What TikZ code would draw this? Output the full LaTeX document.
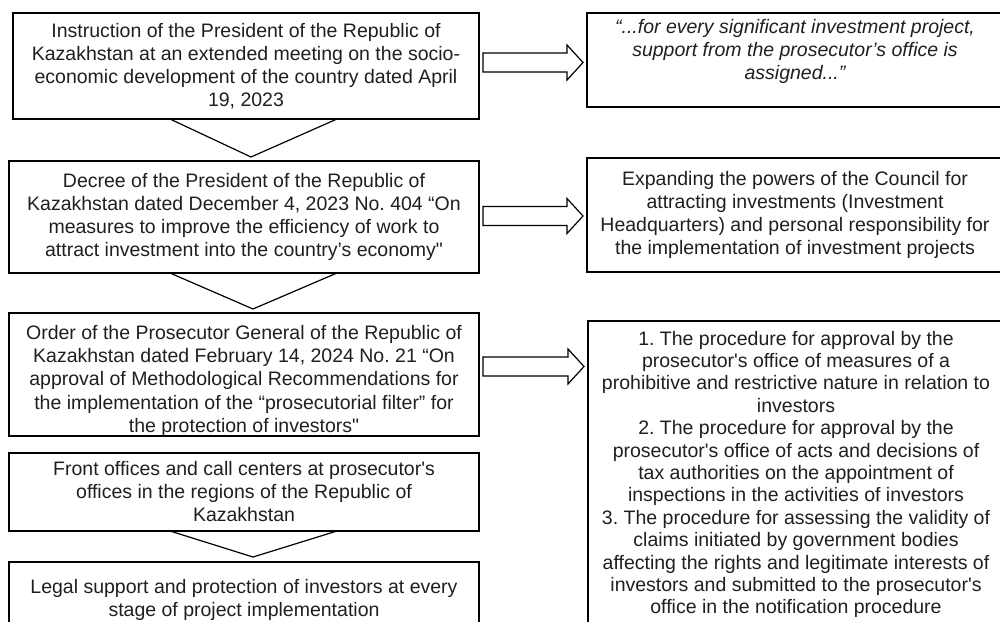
\documentclass[tikz,border=0pt]{standalone}
\usepackage{fontspec}
\setmainfont{Liberation Sans}[Ligatures=TeXOff]
\usetikzlibrary{calc}
\frenchspacing
\newcommand\fs{\fontsize{19.5}{23}\selectfont}
\newcommand\fsb{\fontsize{19.5}{23.3}\selectfont}
\newcommand\fsr{\fontsize{19.5}{22.4}\selectfont}
\newcommand\blockarr[3]{%
  \draw[barrow] let \p1=(#1.east), \p2=(#2.west), \p3=(0,#3) in
    (\x1+4pt,\y3+9.5pt) -- (\x2-20pt,\y3+9.5pt) -- (\x2-20pt,\y3+17.5pt) --
    (\x2-4pt,\y3) -- (\x2-20pt,\y3-17.5pt) -- (\x2-20pt,\y3-9.5pt) --
    (\x1+4pt,\y3-9.5pt) -- cycle;}
\begin{document}
\frenchspacing
\begin{tikzpicture}[x=1pt,y=-1pt,
  every node/.style={inner sep=0pt, outer sep=0pt, text=black!88},
  box/.style={draw=black, line width=1.4pt, align=center, font=\fs, anchor=north west},
  lbl/.style={align=center, font=\fs, anchor=north},
  tri/.style={draw=black, line width=1.2pt, line join=miter},
  barrow/.style={draw=black, line width=1.2pt, fill=white, line join=miter}]
\useasboundingbox (0,0) rectangle (1000,621);
\clip (0,0) rectangle (1000,621);
% left column
\node[box, minimum width=466pt, minimum height=106pt] (b1) at (13,13)
  {Instruction of the President of the Republic of\\Kazakhstan at an extended meeting on the socio-\\economic development of the country dated April\\19, 2023};
\node[box, minimum width=470pt, minimum height=112pt] (b2) at (9,161)
  {Decree of the President of the Republic of\\Kazakhstan dated December 4, 2023 No. 404 “On\\measures to improve the efficiency of work to\\attract investment into the country’s economy"};
\node[box, minimum width=470pt, minimum height=123pt] (b3) at (9,313) {};
\begin{scope}
  \clip (b3.north west) rectangle (b3.south east);
  \node[lbl, font=\fsb] (b3t) at ([yshift=-12pt]b3.north)
    {Order of the Prosecutor General of the Republic of\\Kazakhstan dated February 14, 2024 No. 21 “On\\approval of Methodological Recommendations for\\the implementation of the “prosecutorial filter” for\\the protection of investors"};
\end{scope}
\draw[draw=black, line width=1.4pt] (b3.south west) -- (b3.south east);
\node[box, minimum width=470pt, minimum height=78pt] (b4) at (9,453)
  {Front offices and call centers at prosecutor\textquotesingle s\\offices in the regions of the Republic of\\Kazakhstan};
\node[box, minimum width=470pt, minimum height=140pt] (b5) at (9,562) {};
\node[lbl] (b5t) at ([yshift=-17pt]b5.north)
  {Legal support and protection of investors at every\\stage of project implementation};
% right column
\node[box, minimum width=416pt, minimum height=94pt] (r1) at (587,13) {};
\node[lbl, font=\fs\itshape] (r1t) at ([yshift=-6pt]r1.north)
  {“...for every significant investment project,\\support from the prosecutor’s office is\\assigned...”};
\node[box, minimum width=416pt, minimum height=114pt] (r2) at (587,158)
  {Expanding the powers of the Council for\\attracting investments (Investment\\Headquarters) and personal responsibility for\\the implementation of investment projects};
\node[box, minimum width=416pt, minimum height=380pt] (r3) at (588,321) {};
\node[lbl, font=\fsr] (r3t) at ([yshift=-10pt]r3.north)
  {1. The procedure for approval by the\\prosecutor\textquotesingle s office of measures of a\\prohibitive and restrictive nature in relation to\\investors\\2. The procedure for approval by the\\prosecutor\textquotesingle s office of acts and decisions of\\tax authorities on the appointment of\\inspections in the activities of investors\\3. The procedure for assessing the validity of\\claims initiated by government bodies\\affecting the rights and legitimate interests of\\investors and submitted to the prosecutor\textquotesingle s\\office in the notification procedure};
% down triangles
\draw[tri] ([xshift=-76pt]b1.south) -- ([xshift=7pt,yshift=4pt]b2.north) -- ([xshift=91pt]b1.south);
\draw[tri] ([xshift=-74pt]b2.south) -- ([xshift=9pt,yshift=4pt]b3.north) -- ([xshift=93pt]b2.south);
\draw[tri] ([xshift=-74pt]b4.south) -- ([xshift=9pt,yshift=5pt]b5.north) -- ([xshift=93pt]b4.south);
% block arrows
\blockarr{b1}{r1}{62.5}
\blockarr{b2}{r2}{216}
\blockarr{b3}{r3}{366.5}
\end{tikzpicture}
\end{document}
